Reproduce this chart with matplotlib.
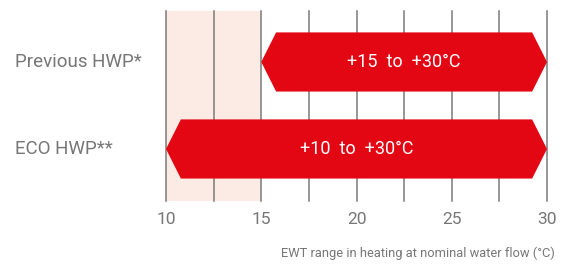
import matplotlib.pyplot as plt
from matplotlib.patches import Polygon
import matplotlib.transforms as mtransforms

# --- Data ---
models = ['Previous HWP*', 'ECO HWP**']
range_min = [15, 10]
range_max = [30, 30]
bar_labels = ['+15  to  +30°C', '+10  to  +30°C']
x_ticks = [10, 15, 20, 25, 30]
grid_x = [10, 12.5, 15, 17.5, 20, 22.5, 25, 27.5, 30]
shade_span = (10, 15)
x_label = 'EWT range in heating at nominal water flow (°C)'

RED = '#e30613'
PINK = '#fcebe4'
GRID = '#7a7a7a'
TXT = '#767676'

plt.rcParams['font.family'] = ['Roboto', 'DejaVu Sans']

fig = plt.figure(figsize=(5.68, 2.64), dpi=100)
ax = fig.add_axes([166 / 568, 1 - 201 / 264, (547 - 166) / 568, 190 / 264])
ax.set_xlim(10, 30)
ax.set_ylim(-0.598, 1.586)
for s in ax.spines.values():
    s.set_visible(False)
ax.set_yticks([])

# background shading and grid
ax.axvspan(*shade_span, color=PINK, zorder=0, lw=0)
for gx in grid_x:
    ax.axvline(gx, color=GRID, lw=1.1, zorder=1, clip_on=False)

# arrow-shaped bars
ys = [1, 0]
half = 0.34
notch = 0.78
for y, lo, hi, lab in zip(ys, range_min, range_max, bar_labels):
    pts = [(lo, y), (lo + notch, y + half), (hi - notch, y + half), (hi, y),
           (hi - notch, y - half), (lo + notch, y - half)]
    ax.add_patch(Polygon(pts, closed=True, color=RED, lw=0, zorder=2))
    ax.text((lo + hi) / 2, y, lab, color='white', fontsize=13,
            ha='center', va='center', zorder=3)

# category labels on the left
trans = mtransforms.blended_transform_factory(fig.transFigure, ax.transData)
for y, m in zip(ys, models):
    ax.text(15 / 568, y, m, transform=trans, color=TXT, fontsize=13.5,
            ha='left', va='center')

ax.set_xticks(x_ticks)
ax.set_xticklabels([str(t) for t in x_ticks], color=TXT, fontsize=12.5)
ax.tick_params(axis='x', length=0, pad=8)

fig.text(555 / 568, 1 - 253 / 264, x_label, color=TXT, fontsize=9.3,
         ha='right', va='center')

fig.savefig('out.png', dpi=100)
